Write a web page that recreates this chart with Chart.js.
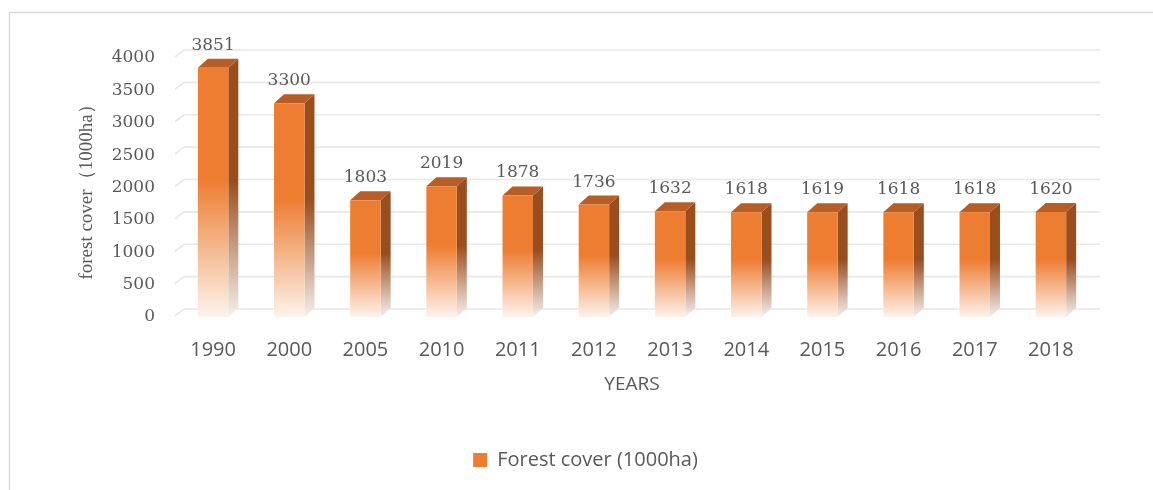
<!DOCTYPE html>
<html>
<head>
<meta charset="utf-8">
<script src="https://cdn.jsdelivr.net/npm/chart.js@4"></script>
<style>
  html, body { margin: 0; padding: 0; background: #fff; }
  #forest_chart { display: block; }
</style>
</head>
<body>
<canvas id="forest_chart" width="1153" height="490"></canvas>
<script>
const years = ['1990', '2000', '2005', '2010', '2011', '2012', '2013', '2014', '2015', '2016', '2017', '2018'];
const forestCover = [3851, 3300, 1803, 2019, 1878, 1736, 1632, 1618, 1619, 1618, 1618, 1620];
const yTicks = [0, 500, 1000, 1500, 2000, 2500, 3000, 3500, 4000];

const orange = '#ED7D31';
const textGray = '#595959';
const depthX = 10, depthY = 9;

// fade each bar to white towards its base, like the excel gradient fill
function fadeGradient(ctx, top, base, color, light) {
    const g = ctx.createLinearGradient(0, top, 0, base);
    g.addColorStop(0, color);
    g.addColorStop(0.45, color);
    g.addColorStop(1, light);
    return g;
}

const threeD = {
    id: 'threeD',
    beforeDraw(chart) {
        const c = chart.ctx;
        c.save();
        c.fillStyle = '#fff';
        c.fillRect(0, 0, chart.width, chart.height);
        c.strokeStyle = '#D9D9D9';
        c.lineWidth = 1.5;
        c.beginPath();
        c.moveTo(9.5, chart.height);
        c.lineTo(9.5, 12.5);
        c.lineTo(chart.width, 12.5);
        c.stroke();
        c.restore();
    },
    afterLayout(chart) {
        // legend sits a bit right of the canvas centre in the original
        chart.legend.left += 36;
        chart.legend.right += 36;
    },
    beforeDatasetsDraw(chart) {
        const c = chart.ctx;
        const y = chart.scales.y;
        const area = chart.chartArea;
        c.save();
        c.strokeStyle = '#E8E8E8';
        c.lineWidth = 1.6;
        yTicks.forEach(v => {
            const py = y.getPixelForValue(v);
            c.beginPath();
            c.moveTo(area.left, py - 1);
            c.lineTo(area.left + depthX - 1, py - depthY + 1);
            c.lineTo(area.right + depthX + 1, py - depthY + 1);
            c.stroke();
        });
        // side and top faces of the bars
        chart.getDatasetMeta(0).data.forEach(bar => {
            const l = bar.x - bar.width / 2, r = bar.x + bar.width / 2;
            c.fillStyle = fadeGradient(c, bar.y, bar.base, '#9A4D1D', '#F4F0EE');
            c.beginPath();
            c.moveTo(r, bar.y);
            c.lineTo(r + depthX, bar.y - depthY);
            c.lineTo(r + depthX, bar.base - depthY);
            c.lineTo(r, bar.base);
            c.closePath();
            c.fill();
            c.fillStyle = '#B65E25';
            c.beginPath();
            c.moveTo(l, bar.y);
            c.lineTo(l + depthX, bar.y - depthY);
            c.lineTo(r + depthX, bar.y - depthY);
            c.lineTo(r, bar.y);
            c.closePath();
            c.fill();
        });
        c.restore();
    },
    afterDatasetsDraw(chart) {
        const c = chart.ctx;
        c.save();
        c.font = '17px "DejaVu Serif"';
        c.fillStyle = textGray;
        c.textAlign = 'center';
        c.textBaseline = 'alphabetic';
        chart.getDatasetMeta(0).data.forEach((bar, i) => {
            c.fillText(String(forestCover[i]), bar.x, bar.y - 18);
        });
        c.restore();
    }
};

const forest_ctx = document.getElementById('forest_chart').getContext('2d');
const forest_chart = new Chart(forest_ctx, {
    type: 'bar',
    data: {
        labels: years,
        datasets: [
            {
                label: 'Forest cover (1000ha)',
                data: forestCover,
                backgroundColor: function(ctx) {
                    const chart = ctx.chart;
                    if (!chart.chartArea || ctx.type !== 'data') return orange;
                    const y = chart.scales.y;
                    return fadeGradient(chart.ctx, y.getPixelForValue(ctx.raw), y.getPixelForValue(0), orange, '#FDF3EC');
                },
                borderWidth: 0,
                barPercentage: 0.4,
                categoryPercentage: 1
            }
        ]
    },
    options: {
        responsive: false,
        animation: false,
        layout: { padding: { left: 10, right: 64, top: 58, bottom: 10 } },
        plugins: {
            tooltip: { enabled: false },
            legend: {
                position: 'bottom',
                labels: {
                    boxWidth: 14,
                    boxHeight: 14,
                    padding: 10,
                    color: textGray,
                    font: { family: '"Open Sans"', size: 20 },
                    generateLabels(chart) {
                        return Chart.defaults.plugins.legend.labels.generateLabels(chart).map(item => {
                            item.fillStyle = orange;
                            item.lineWidth = 0;
                            return item;
                        });
                    }
                }
            }
        },
        scales: {
            x: {
                grid: { display: false, drawTicks: false },
                border: { display: false },
                ticks: { color: textGray, padding: 21, font: { family: '"Open Sans"', size: 20 } },
                title: {
                    display: true,
                    text: 'YEARS',
                    color: textGray,
                    padding: { top: 0, bottom: 44 },
                    font: { family: '"Open Sans"', size: 19 }
                },
                afterFit(scale) { scale.height = 123; }
            },
            y: {
                min: 0,
                max: 4000,
                grid: { display: false, drawTicks: false },
                border: { display: false },
                ticks: {
                    stepSize: 500,
                    color: textGray,
                    padding: 20,
                    font: { family: '"DejaVu Serif"', size: 17 },
                    callback: v => String(v)
                },
                title: {
                    display: true,
                    text: 'forest cover（1000ha）',
                    color: textGray,
                    padding: { top: 66, bottom: 0 },
                    font: { family: '"Liberation Serif"', size: 19 }
                },
                afterFit(scale) { scale.width = 165; }
            }
        }
    },
    plugins: [threeD]
});
</script>
</body>
</html>
